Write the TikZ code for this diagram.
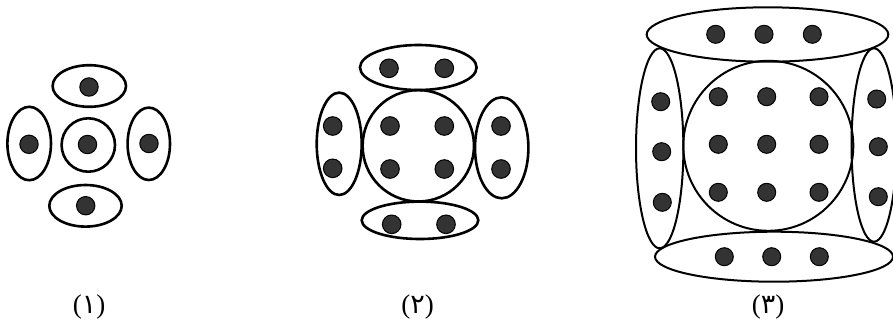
\documentclass[tikz,border=0pt]{standalone}
\usepackage{fontspec}
\newfontfamily\arabicfont[Script=Arabic]{DejaVu Sans}
\newfontfamily\parfont{Liberation Serif}
\begin{document}
\begin{tikzpicture}[x=1pt,y=-1pt,
  ring/.style={draw=black,line width=2.6pt},
  ringthin/.style={draw=black,line width=2pt},
  dot/.style={fill=black!80,draw=black,line width=1pt},
  lbl/.style={font=\fontsize{27}{28}\selectfont}]
\useasboundingbox[fill=white] (0,0) rectangle (893,322);
% ---------- figure 1 ----------
\draw[ring] (89.3,86) ellipse [x radius=36.7,y radius=20.8];
\draw[ring] (88.3,145) circle [radius=26.7];
\draw[ring] (29.2,143.5) ellipse [x radius=21.8,y radius=36.7];
\draw[ring] (148.8,143.8) ellipse [x radius=21.2,y radius=36.2];
\draw[ring] (85.5,205.8) ellipse [x radius=36.2,y radius=20.8];
\foreach \p in {(89,87),(87.5,144.5),(29,144.3),(149,143.5),(85.7,205.7)}
  \draw[dot] \p circle [radius=9.2];
\node[lbl] (l1) at (89,307) {{\parfont(}{\arabicfont ۱}{\parfont)}};
% ---------- figure 2 ----------
\draw[ring] (418.3,67.5) ellipse [x radius=58.3,y radius=22.5];
\draw[ring] (418.3,145.8) circle [radius=55.7];
\draw[ring] (339.2,143.8) ellipse [x radius=22.5,y radius=51.2];
\draw[ring] (501.7,147.8) ellipse [x radius=26.7,y radius=50.5];
\draw[ring] (420,220.3) ellipse [x radius=58.3,y radius=18.7];
\foreach \p in {(389,68.3),(444.3,68.3),(390,126),(444.3,126),(390,169),(444.3,169),
  (332.7,126),(332.7,168.3),(501,126),(501,169),(391.7,224.3),(446,224.3)}
  \draw[dot] \p circle [radius=9.3];
\node[lbl] (l2) at (417.5,307) {{\parfont(}{\arabicfont ۲}{\parfont)}};
% ---------- figure 3 ----------
\draw[ringthin] (767.5,34.5) ellipse [x radius=120.8,y radius=27.2];
\draw[ringthin] (768.3,145.8) circle [radius=85];
\draw[ringthin] (659.7,148.3) ellipse [x radius=23.7,y radius=100];
\draw[ringthin] (874,145) ellipse [x radius=22.5,y radius=96.7];
\draw[ringthin] (774,256.7) ellipse [x radius=119,y radius=25];
\foreach \p in {(715.7,34.3),(764,34.3),(812.3,34.3),
  (718.3,96.7),(766.7,96.7),(819,96.7),
  (718.3,144.3),(766.7,144.3),(819,144.3),
  (718.3,192.3),(766.7,192.3),(819,192.3),
  (660.7,101.7),(661.7,151.7),(662.3,202.3),
  (876.7,99),(878.3,146.7),(878.3,196.7),
  (724.3,256.7),(771.7,256.7),(819.3,256.7)}
  \draw[dot] \p circle [radius=9];
\node[lbl] (l3) at (768,307) {{\parfont(}{\arabicfont ۳}{\parfont)}};
\end{tikzpicture}
\end{document}
